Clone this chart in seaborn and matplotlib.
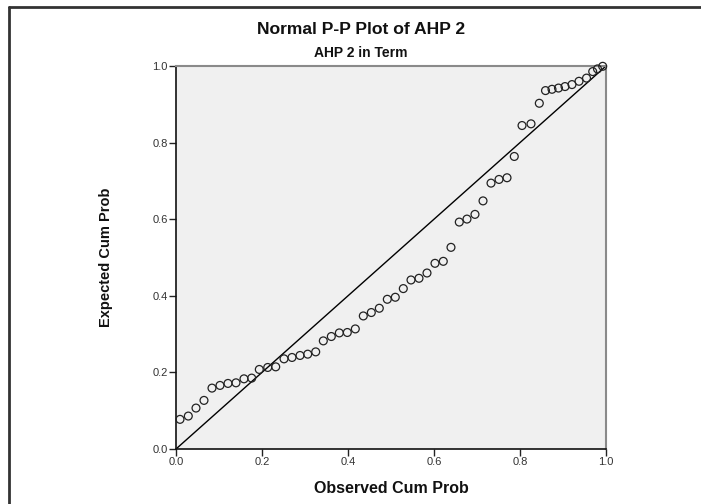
import matplotlib
matplotlib.use("Agg")
import matplotlib.pyplot as plt
import seaborn as sns
import pandas as pd
from matplotlib.lines import Line2D

observed = [0.0093, 0.0286, 0.0465, 0.0651, 0.0837, 0.1023, 0.1209, 0.1395, 0.1581, 0.1760,
            0.1937, 0.2133, 0.2319, 0.2512, 0.2698, 0.2884, 0.3063, 0.3249, 0.3426, 0.3612,
            0.3798, 0.3984, 0.4170, 0.4356, 0.4542, 0.4728, 0.4914, 0.5100, 0.5286, 0.5465,
            0.5651, 0.5837, 0.6023, 0.6216, 0.6395, 0.6588, 0.6767, 0.6953, 0.7140, 0.7326,
            0.7512, 0.7698, 0.7867, 0.8047, 0.8256, 0.8449, 0.8593, 0.8744, 0.8895, 0.9047,
            0.9209, 0.9372, 0.9547, 0.9691, 0.9802, 0.9923]
expected = [0.0774, 0.0860, 0.1069, 0.1269, 0.1590, 0.1660, 0.1712, 0.1728, 0.1832, 0.1851,
            0.2077, 0.2129, 0.2145, 0.2354, 0.2390, 0.2442, 0.2476, 0.2536, 0.2823, 0.2937,
            0.3031, 0.3042, 0.3135, 0.3474, 0.3563, 0.3675, 0.3909, 0.3962, 0.4188, 0.4413,
            0.4457, 0.4595, 0.4848, 0.4900, 0.5265, 0.5925, 0.6003, 0.6126, 0.6478, 0.6942,
            0.7038, 0.7082, 0.7638, 0.8446, 0.8490, 0.9027, 0.9358, 0.9392, 0.9424, 0.9463,
            0.9515, 0.9601, 0.9684, 0.9854, 0.9924, 0.9992]
ticks = [0.0, 0.2, 0.4, 0.6, 0.8, 1.0]
tick_labels = ["0.0", "0.2", "0.4", "0.6", "0.8", "1.0"]

title = "Normal P-P Plot of AHP 2"
subtitle = "AHP 2 in Term"
xlabel = "Observed Cum Prob"
ylabel = "Expected Cum Prob"

df = pd.DataFrame({"observed": observed, "expected": expected})

sns.set_theme(style="white")
plt.rcParams["font.family"] = ["Liberation Sans", "DejaVu Sans"]

fig = plt.figure(figsize=(7.01, 5.04), dpi=100)
fig.patch.set_facecolor("white")
ax = fig.add_axes([176 / 701, 1 - 449 / 504, 430 / 701, 383 / 504])
ax.set_facecolor("#f0f0f0")

ax.axline((0, 0), slope=1, color="black", linewidth=1.0, zorder=2)
sns.scatterplot(data=df, x="observed", y="expected", ax=ax, marker="o", s=32,
                facecolor="none", edgecolor="#222222", linewidth=0.9, zorder=3,
                clip_on=False)

ax.set_xlim(0, 1)
ax.set_ylim(0, 1)
ax.set_xticks(ticks)
ax.set_xticklabels(tick_labels)
ax.set_yticks(ticks)
ax.set_yticklabels(tick_labels)
ax.tick_params(axis="both", direction="out", length=5, width=1, color="#222222",
               labelsize=8, labelcolor="#333333", pad=1, bottom=True, left=True)

for side in ["left", "bottom"]:
    ax.spines[side].set_color("#111111")
    ax.spines[side].set_linewidth(1.2)
for side in ["top", "right"]:
    ax.spines[side].set_color("#8a8a8a")
    ax.spines[side].set_linewidth(1.5)

ax.set_xlabel(xlabel, fontsize=11.5, fontweight="bold", labelpad=10, color="#111111")
ax.set_ylabel(ylabel, fontsize=10.5, fontweight="bold", labelpad=28, color="#111111")

fig.text(361 / 701, 1 - 30 / 504, title, ha="center", va="center",
         fontsize=12.6, fontweight="bold", color="#111111")
fig.text(361 / 701, 1 - 53 / 504, subtitle, ha="center", va="center",
         fontsize=10, fontweight="bold", color="#111111")

# frame lines (top and left) like the SPSS chart window
fig.add_artist(Line2D([9 / 701, 1.0], [1 - 7 / 504, 1 - 7 / 504], transform=fig.transFigure,
                      color="#333333", linewidth=2))
fig.add_artist(Line2D([9 / 701, 9 / 701], [1 - 7 / 504, 0.0], transform=fig.transFigure,
                      color="#333333", linewidth=2))

fig.savefig("out.png", dpi=100, facecolor="white")
